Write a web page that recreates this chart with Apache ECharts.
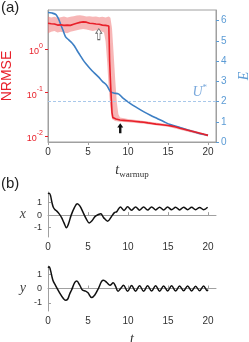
<!DOCTYPE html>
<html><head><meta charset="utf-8">
<script src="https://cdn.jsdelivr.net/npm/echarts@6/dist/echarts.min.js"></script>
<style>html,body{margin:0;padding:0;background:#fff;}#c{width:249px;height:342px;}</style>
</head><body><div id="c"></div>
<script>
// ---- panel (a) data ----
const nrmseT = [0,0.2,0.4,0.6,0.8,1.0,1.2,1.4,1.6,1.8,2.0,2.2,2.4,2.6,2.8,3.0,3.2,3.4,3.6,3.8,4.0,4.2,4.4,4.6,4.8,5.0,5.2,5.4,5.6,5.8,6.0,6.2,6.4,6.6,6.8,7.0,7.2,7.4,7.6,7.65,7.7,7.8,7.9,8.0,8.1,8.2,8.5,9.0,9.5,10,10.5,11,11.5,12,12.5,13,13.5,14,14.5,15,15.5,16,16.5,17,17.5,18,18.5,19,19.5,20];
const nrmseV = [3.9,3.7,3.8,3.6,3.75,3.7,3.55,3.5,3.6,3.45,3.5,3.4,3.55,3.45,3.5,3.6,3.7,3.75,3.9,4.0,4.1,3.95,4.2,4.05,4.15,4.0,3.9,3.8,3.85,3.7,3.75,3.6,3.7,3.65,3.55,3.6,3.5,3.55,3.4,1.5,0.55,0.2,0.08,0.035,0.027,0.0255,0.025,0.0236,0.0232,0.0228,0.0224,0.0219,0.0214,0.021,0.0203,0.0197,0.019,0.0186,0.0182,0.0177,0.0171,0.0163,0.0153,0.0145,0.0137,0.013,0.0124,0.0118,0.0111,0.0105];
const bandUpT = [0,0.4,0.8,1.2,1.6,2.0,2.4,2.8,3.2,3.6,4.0,4.4,4.8,5.2,5.6,6.0,6.4,6.8,7.2,7.6,7.8,8.0,8.2,8.4,8.6,8.8,9.0,10,12,15,18,20];
const bandUpV = [5.6,5.3,5.5,5.2,5.4,5.6,5.3,5.5,5.7,5.9,6.0,5.8,5.6,5.7,5.5,5.6,5.4,5.5,5.3,5.6,5.2,3.0,0.8,0.2,0.06,0.032,0.027,0.025,0.0225,0.019,0.014,0.011];
const bandLoT = [0,0.4,0.8,1.2,1.6,2.0,2.4,2.8,3.2,3.6,4.0,4.4,4.8,5.2,5.6,6.0,6.4,6.8,7.0,7.2,7.4,7.6,7.8,8.0,8.4,9.0,10,12,15,18,20];
const bandLoV = [2.3,2.5,2.6,2.4,2.5,2.4,2.3,2.5,2.6,2.7,2.8,2.9,2.8,2.7,2.6,2.7,2.6,2.5,2.4,1.5,0.5,0.12,0.045,0.025,0.0225,0.0215,0.021,0.0195,0.0165,0.012,0.0099];
const eT = [0,0.5,1.0,1.3,1.6,1.9,2.2,2.6,3.0,3.3,3.6,4.0,4.4,4.8,5.25,5.7,6.3,6.8,7.35,7.8,8.2,8.8,9.3,10.3,11.1,12.0,12.8,13.65,14.5,15.3,16.2,17.0,17.8,18.7,19.4,20];
const eV = [6.41,6.38,6.3,6.1,5.8,5.5,5.2,5.05,4.9,4.75,4.55,4.3,4.05,3.85,3.64,3.45,3.22,3.0,2.8,2.5,2.42,2.38,2.2,1.9,1.7,1.49,1.32,1.16,1.0,0.86,0.75,0.66,0.56,0.45,0.38,0.33];
const uStar = 2;
const arrowT = [6.35, 9.03];
const arrowV = [2.2, 0.0153];
const xTicksA = [0,5,10,15,20];
const logTicks = [0.01,0.1,1];
const eTicks = [0,1,2,3,4,5,6];
// ---- panel (b) data ----
const xT = [0,0.15,0.3,0.5,0.65,0.85,1.1,1.4,1.7,2.0,2.3,2.55,2.9,3.3,3.65,4.0,4.4,4.8,5.15,5.5,5.9,6.3,6.6,6.95,7.45,7.9,8.3,8.6,9.05,9.5,9.95,10.45,10.95,11.45,11.95,12.45,12.95,13.45,13.95,14.45,14.95,15.45,15.95,16.45,16.95,17.45,17.95,18.45,18.95,19.45,19.95];
const xV = [1.71,1.76,1.6,1.0,0.65,0.45,0.32,0.1,-0.2,-0.62,-1.0,-0.72,0.0,0.6,0.91,0.72,0.2,-0.32,-0.62,-0.45,-0.1,0.05,0.11,-0.2,-0.48,-0.15,0.2,0.28,0.66,0.38,0.67,0.39,0.66,0.4,0.65,0.41,0.66,0.42,0.64,0.41,0.65,0.43,0.63,0.42,0.64,0.44,0.63,0.43,0.62,0.44,0.63];
const yT = [0,0.15,0.3,0.6,0.95,1.4,1.9,2.2,2.45,2.7,2.95,3.35,3.6,3.95,4.3,4.7,5.0,5.45,5.85,6.3,6.7,6.95,7.35,7.75,8.15,8.45,8.75,9.05,9.45,9.95,10.45,10.95,11.45,11.95,12.45,12.95,13.45,13.95,14.45,14.95,15.45,15.95,16.45,16.95,17.45,17.95,18.45,18.95,19.45,19.9,20];
const yV = [1.45,1.52,1.3,0.6,0.2,-0.25,-0.68,-0.82,-0.75,-0.4,-0.1,0.42,0.52,0.25,-0.1,-0.18,-0.3,-0.63,-0.45,0.0,0.5,0.58,0.42,0.23,0.4,0.15,-0.2,-0.02,0.22,-0.2,0.21,-0.19,0.2,-0.2,0.19,-0.18,0.2,-0.19,0.18,-0.17,0.19,-0.18,0.17,-0.16,0.18,-0.17,0.16,-0.16,0.17,-0.15,-0.08];
const xTicksB = [0,5,10,15,20];
const yTicksB = [-1,0,1];

const zip = (a, b) => a.map((v, i) => [v, b[i]]);
const RED = '#e8202a', BLUE = '#3d7fc4', LBLUE = '#5b9bd5', AX = '#a0a0a0', TXT = '#333';
const SANS = 'Liberation Sans, Arial, sans-serif';
const SERIF = 'Liberation Serif, DejaVu Serif, serif';
const arrowPath = 'path://M5 0 L10 5 L7 5 L7 12 L3 12 L3 5 L0 5 Z';

const chart = echarts.init(document.getElementById('c'), null, {renderer: 'canvas'});
const baseX = (gi, extra) => Object.assign({
  type: 'value', gridIndex: gi, min: 0, max: 21,
  axisLine: {lineStyle: {color: AX, width: 1}},
  splitLine: {show: false},
}, extra);

chart.setOption({
  animation: false,
  textStyle: {fontFamily: SANS},
  title: [
    {text: '(a)', left: 1, top: 0, padding: 0, textStyle: {fontSize: 15, fontWeight: 'normal', color: '#222', fontFamily: SANS}},
    {text: '(b)', left: 1, top: 176, padding: 0, textStyle: {fontSize: 15, fontWeight: 'normal', color: '#222', fontFamily: SANS}}
  ],
  grid: [
    {left: 48, top: 10, width: 168, height: 132, show: true, borderColor: AX, borderWidth: 1, outerBoundsMode: 'none', containLabel: false},
    {left: 48, top: 192, width: 168, height: 45, outerBoundsMode: 'none', containLabel: false},
    {left: 48, top: 266, width: 168, height: 45, outerBoundsMode: 'none', containLabel: false}
  ],
  xAxis: [
    baseX(0, {
      axisTick: {length: 3, customValues: xTicksA, lineStyle: {color: AX}},
      axisLabel: {customValues: xTicksA, fontSize: 10, color: TXT, margin: 5},
      name: '{t|t}{s|warmup}', nameLocation: 'middle', nameGap: 21,
      nameTextStyle: {color: TXT, rich: {
        t: {fontFamily: SERIF, fontStyle: 'italic', fontSize: 14, lineHeight: 16, verticalAlign: 'top', color: TXT},
        s: {fontFamily: SERIF, fontSize: 9, lineHeight: 9, verticalAlign: 'bottom', color: TXT}
      }}
    }),
    baseX(1, {
      axisTick: {inside: true, length: 3, customValues: xTicksB, lineStyle: {color: AX}},
      axisLabel: {customValues: xTicksB, fontSize: 10, color: TXT, margin: 5}
    }),
    baseX(2, {
      axisTick: {inside: true, length: 3, customValues: xTicksB, lineStyle: {color: AX}},
      axisLabel: {customValues: xTicksB, fontSize: 10, color: TXT, margin: 5},
      name: 't', nameLocation: 'middle', nameGap: 21,
      nameTextStyle: {fontFamily: SERIF, fontStyle: 'italic', fontSize: 14, color: TXT}
    })
  ],
  yAxis: [
    {
      type: 'log', gridIndex: 0, min: 0.0074, max: 7.88, position: 'left',
      axisLine: {show: true, lineStyle: {color: AX}},
      axisTick: {show: true, length: 3, customValues: logTicks, lineStyle: {color: RED}},
      minorTick: {show: false}, splitLine: {show: false},
      axisLabel: {customValues: logTicks, margin: 5,
        formatter: v => '{b|10}{e|' + Math.round(Math.log10(v)) + '}',
        rich: {
          b: {fontSize: 9, color: RED, lineHeight: 14, verticalAlign: 'bottom'},
          e: {fontSize: 7, color: RED, lineHeight: 8, verticalAlign: 'top'}
        }},
      name: 'NRMSE', nameLocation: 'middle', nameGap: 34,
      nameTextStyle: {color: RED, fontSize: 14, fontFamily: SANS}
    },
    {
      type: 'value', gridIndex: 0, min: 0, max: 6.53, position: 'right',
      axisLine: {show: true, lineStyle: {color: AX}},
      axisTick: {show: true, length: 3, customValues: eTicks, lineStyle: {color: LBLUE}},
      splitLine: {show: false},
      axisLabel: {customValues: eTicks, fontSize: 10, color: LBLUE, margin: 5},
      name: 'E', nameLocation: 'middle', nameGap: 20,
      nameTextStyle: {color: LBLUE, fontSize: 14, fontFamily: SERIF, fontStyle: 'italic'}
    },
    {
      type: 'value', gridIndex: 1, min: -1.75, max: 1.85,
      axisLine: {show: true, lineStyle: {color: AX}},
      axisTick: {show: true, inside: true, length: 3, customValues: yTicksB, lineStyle: {color: AX}},
      splitLine: {show: false},
      axisLabel: {customValues: yTicksB, fontSize: 9, color: TXT, margin: 6},
      name: 'x', nameLocation: 'middle', nameGap: 22, nameRotate: 0,
      nameTextStyle: {color: '#444', fontSize: 14, fontFamily: SERIF, fontStyle: 'italic'}
    },
    {
      type: 'value', gridIndex: 2, min: -1.57, max: 1.57,
      axisLine: {show: true, lineStyle: {color: AX}},
      axisTick: {show: true, inside: true, length: 3, customValues: yTicksB, lineStyle: {color: AX}},
      splitLine: {show: false},
      axisLabel: {customValues: yTicksB, fontSize: 9, color: TXT, margin: 6},
      name: 'y', nameLocation: 'middle', nameGap: 22, nameRotate: 0,
      nameTextStyle: {color: '#444', fontSize: 14, fontFamily: SERIF, fontStyle: 'italic'}
    }
  ],
  series: [
    {
      type: 'custom', xAxisIndex: 0, yAxisIndex: 0, data: [[0, 1]], silent: true, z: 1,
      renderItem: function (params, api) {
        if (params.dataIndex !== 0) return null;
        const pts = [];
        for (let i = 0; i < bandUpT.length; i++) pts.push(api.coord([bandUpT[i], bandUpV[i]]));
        for (let i = bandLoT.length - 1; i >= 0; i--) pts.push(api.coord([bandLoT[i], bandLoV[i]]));
        return {type: 'polygon', shape: {points: pts}, style: {fill: 'rgba(240,110,110,0.5)'}};
      }
    },
    {
      type: 'line', xAxisIndex: 0, yAxisIndex: 1, data: zip(eT, eV), smooth: 0.3, showSymbol: false, z: 3,
      lineStyle: {color: BLUE, width: 1.6},
      markLine: {
        silent: true, symbol: 'none', data: [{yAxis: uStar}],
        lineStyle: {color: '#a9c8ea', type: [3, 2], width: 1},
        label: {show: true, position: 'insideEndTop', distance: [9, 2], formatter: '{u|U}{s|*}',
          rich: {
            u: {fontFamily: SERIF, fontStyle: 'italic', fontSize: 14, color: '#7aa9dc', lineHeight: 16, verticalAlign: 'bottom'},
            s: {fontFamily: SERIF, fontSize: 9, color: '#7aa9dc', lineHeight: 9, verticalAlign: 'top'}
          }}
      }
    },
    {
      type: 'line', xAxisIndex: 0, yAxisIndex: 0, data: zip(nrmseT, nrmseV), showSymbol: false, z: 4,
      lineStyle: {color: RED, width: 1.6},
      markPoint: {
        silent: true, symbol: arrowPath, symbolKeepAspect: false, label: {show: false},
        data: [
          {coord: [arrowT[0], arrowV[0]], symbolSize: [6, 11], itemStyle: {color: '#fff', borderColor: '#666', borderWidth: 0.8}},
          {coord: [arrowT[1], arrowV[1]], symbolSize: [6, 10], itemStyle: {color: '#111'}}
        ]
      }
    },
    {
      type: 'line', xAxisIndex: 1, yAxisIndex: 2, data: zip(xT, xV), smooth: 0.35, showSymbol: false,
      lineStyle: {color: '#111', width: 1.5}
    },
    {
      type: 'line', xAxisIndex: 2, yAxisIndex: 3, data: zip(yT, yV), smooth: 0.35, showSymbol: false,
      lineStyle: {color: '#111', width: 1.5}
    }
  ]
});
</script>
</body></html>
